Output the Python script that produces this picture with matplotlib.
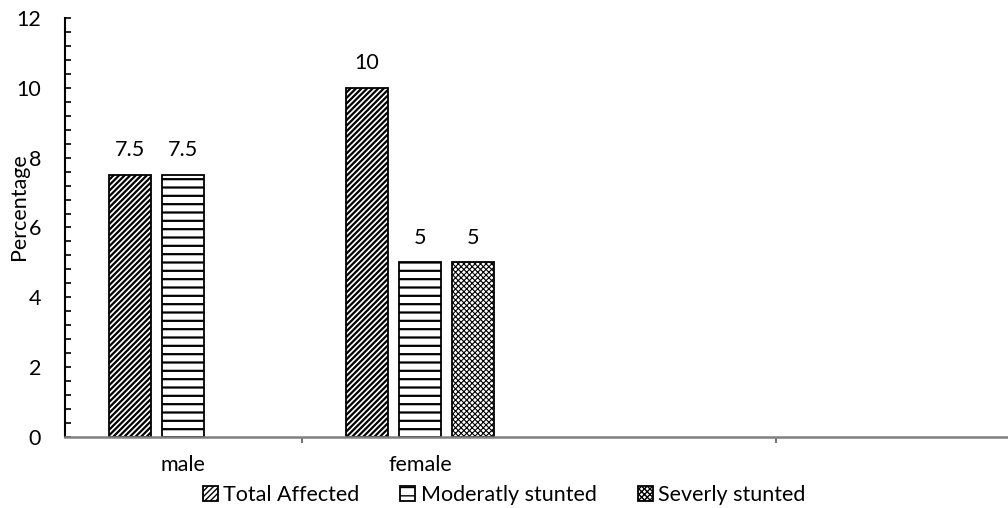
import numpy as np
import matplotlib as mpl
from matplotlib import pyplot as plt
from matplotlib.ticker import MultipleLocator, FixedLocator, NullFormatter

plt.rcParams['font.family'] = ['Lato', 'DejaVu Sans']

groups = ['male', 'female']
series = ['Total Affected', 'Moderatly stunted', 'Severly stunted']
total_affected = [7.5, 10]
moderately = [7.5, 5]
severely = [None, 5]
hatches = ['//////', '--', 'xxxxxx']
hatch_widths = [1.6, 1.6, 0.8]

fig = plt.figure(figsize=(10.08, 5.08), dpi=100)
ax = fig.add_axes([0.064, 0.1398, 0.936, 0.8248])

x = np.arange(len(groups))
width = 0.177
step = 0.2236
offsets = [-step, 0, step]
fs = 15.5

handles = []
for vals, name, hatch, hw, off in zip([total_affected, moderately, severely], series,
                                      hatches, hatch_widths, offsets):
    xs = [xi + off for xi, v in zip(x, vals) if v is not None]
    ys = [v for v in vals if v is not None]
    with mpl.rc_context({'hatch.linewidth': hw}):
        bars = ax.bar(xs, ys, width, color='white', edgecolor='black', linewidth=1.3,
                      hatch=hatch, label=name)
    handles.append(bars)
    for xi, v in zip(xs, ys):
        ax.text(xi, v + 0.42, f'{v:g}', ha='center', va='bottom', fontsize=fs)

ax.set_xlim(-0.5, 3.481)
ax.set_ylim(0, 12)

ax.yaxis.set_major_locator(MultipleLocator(2))
ax.yaxis.set_minor_locator(MultipleLocator(0.4))
ax.tick_params(axis='y', which='both', direction='in', length=4.5, width=1.2, pad=17, labelsize=fs)

ax.set_xticks(x)
ax.set_xticklabels(groups)
ax.xaxis.set_minor_locator(FixedLocator([0.5, 2.5]))
ax.xaxis.set_minor_formatter(NullFormatter())
ax.tick_params(axis='x', which='major', length=0, pad=13, labelsize=fs)
ax.tick_params(axis='x', which='minor', direction='out', length=4.5, width=1.2, color='#595959')

for side in ['top', 'right']:
    ax.spines[side].set_visible(False)
ax.spines['left'].set_linewidth(1.5)
ax.spines['bottom'].set_color('#808080')
ax.spines['bottom'].set_linewidth(1.8)

ax.set_ylabel('Percentage', fontsize=fs)
ax.yaxis.set_label_coords(-0.038, 0.55)

fig.legend(handles=handles, loc='center', bbox_to_anchor=(0.5, 0.026), ncol=3, frameon=False,
           fontsize=fs, handlelength=0.7, handleheight=0.7, handletextpad=0.25, columnspacing=1.9)

fig.savefig('out.png', dpi=100)
